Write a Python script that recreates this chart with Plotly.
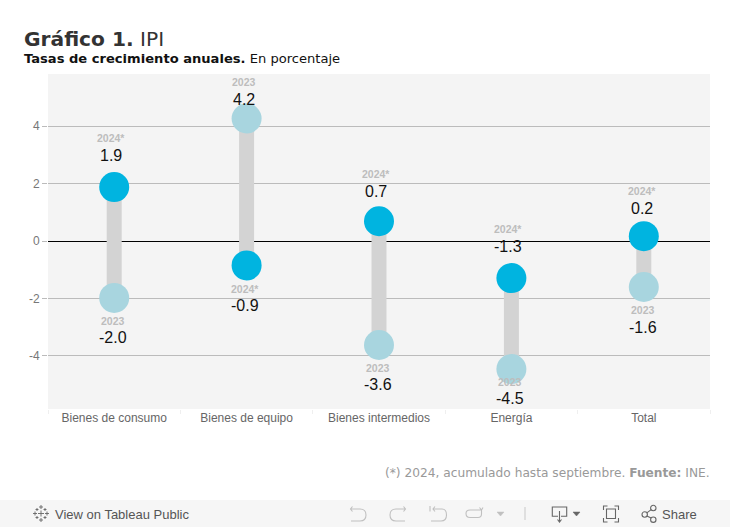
import plotly.graph_objects as go

categories = ["Bienes de consumo", "Bienes de equipo", "Bienes intermedios", "Energía", "Total"]
values_2023 = [-1.98, 4.27, -3.62, -4.46, -1.60]
values_2024 = [1.88, -0.85, 0.69, -1.29, 0.17]
labels_2023 = ["-2.0", "4.2", "-3.6", "-4.5", "-1.6"]
labels_2024 = ["1.9", "-0.9", "0.7", "-1.3", "0.2"]
y_ticks = [-4, -2, 0, 2, 4]
y_tick_labels = ["-4", "-2", "0", "2", "4"]

# label offsets in pixels from the dot (value label, year label, sideways); positive = upward/right
offset_2023 = [(-40, -23, -1.5), (19, 36.5, -2.5), (-40, -23, -1.5), (-29, -13, -1.5), (-40, -23, -1)]
offset_2024 = [(32, 49, -3), (-40, -24, -1.5), (30, 47, -3), (32, 49, -3), (28, 45, -1.5)]

W, H = 730, 527
L, R, T, B = 48, 710, 74, 409
LINK = "#d3d3d3"
C23 = "#a8d5df"
C24 = "#00b4e0"
ICON = "#c0c0c0"
DARK = "#666666"

def px(x):
    return (x - L) / (R - L)
def py(y):
    return (B - y) / (B - T)

fig = go.Figure()
link_x, link_y = [], []
for c, a, b in zip(categories, values_2023, values_2024):
    link_x += [c, c, None]
    link_y += [a, b, None]
fig.add_trace(go.Scatter(x=link_x, y=link_y, mode="lines", line=dict(color=LINK, width=15),
                         hoverinfo="skip", showlegend=False))
fig.add_trace(go.Scatter(x=categories, y=values_2023, mode="markers", name="2023",
                         marker=dict(color=C23, size=30, line=dict(width=0)), showlegend=False))
fig.add_trace(go.Scatter(x=categories, y=values_2024, mode="markers", name="2024*",
                         marker=dict(color=C24, size=30, line=dict(width=0)), showlegend=False))

anns = []
def add_labels(vals, labels, offs, year):
    for c, v, t, (o1, o2, dx) in zip(categories, vals, labels, offs):
        anns.append(dict(x=c, y=v, xref="x", yref="y", text=t, showarrow=False, yshift=o1, xshift=dx,
                         font=dict(family="Liberation Sans", size=16, color="#111111")))
        anns.append(dict(x=c, y=v, xref="x", yref="y", text=year, showarrow=False, yshift=o2, xshift=dx,
                         font=dict(family="Liberation Sans", size=10.5, color="#bdbdbd")))
add_labels(values_2023, labels_2023, offset_2023, "<b>2023</b>")
add_labels(values_2024, labels_2024, offset_2024, "<b>2024*</b>")

def text(x, y, t, size, color, family="DejaVu Sans", anchor="left"):
    anns.append(dict(x=px(x), y=py(y), xref="paper", yref="paper", text=t, showarrow=False,
                     xanchor=anchor, yanchor="middle", borderpad=0,
                     font=dict(family=family, size=size, color=color)))

text(23, 38.5, "<b>Gráfico 1.</b> IPI", 20.2, "#333333")
text(23, 58.5, "<b>Tasas de crecimiento anuales.</b> En porcentaje", 13.08, "#111111")
text(711, 473, "(*) 2024, acumulado hasta septiembre. <b>Fuente:</b> INE.", 12.2, "#999999", anchor="right")
text(54, 514, "View on Tableau Public", 13, "#555555", family="Liberation Sans")
text(661, 514, "Share", 13, "#555555", family="Liberation Sans")

shapes = [dict(type="rect", xref="paper", yref="paper", x0=px(0), x1=px(W), y0=py(H), y1=py(500),
               fillcolor="#f6f6f6", line=dict(width=0), layer="below")]

def path(points_str, color=ICON, width=1.1, fill=None):
    """SVG-like path with pixel coordinates, converted to paper space."""
    out = []
    toks = points_str.split()
    i = 0
    while i < len(toks):
        t = toks[i]
        if t in ("M", "L", "Q", "C", "Z"):
            out.append(t); i += 1
        else:
            out.append(f"{px(float(t))},{py(float(toks[i+1]))}"); i += 2
    shapes.append(dict(type="path", xref="paper", yref="paper", path=" ".join(out),
                       line=dict(color=color, width=width),
                       fillcolor=fill if fill else "rgba(0,0,0,0)"))

def circle(cx, cy, r, color=DARK, width=1.1):
    shapes.append(dict(type="circle", xref="paper", yref="paper", x0=px(cx-r), x1=px(cx+r),
                       y0=py(cy+r), y1=py(cy-r), line=dict(color=color, width=width)))

# Tableau logo
for a, b, s in [(41, 513.5, 3), (41, 507, 2), (41, 520, 2), (35, 513.5, 2), (47, 513.5, 2),
                (37, 509.5, 1.5), (45, 509.5, 1.5), (37, 517.5, 1.5), (45, 517.5, 1.5)]:
    path(f"M {a-s} {b} L {a+s} {b} M {a} {b-s} L {a} {b+s}", DARK, 0.9)
# undo / redo / revert / refresh
path("M 350 509 L 360 509 Q 366 509 366 515 Q 366 521 360 521 L 351 521 M 352.5 506.5 L 350.5 509 L 352.5 511.5")
path("M 405.5 509 L 396 509 Q 390 509 390 515 Q 390 521 396 521 L 405 521 M 403.5 506.5 L 405.5 509 L 403.5 511.5")
path("M 430 506 L 430 511.5 M 433 509 L 442 509 Q 446.5 509 446.5 515 Q 446.5 521 441 521 L 431 521 M 435 506.5 L 433 509 L 435 511.5")
path("M 481.5 510 L 470 510 Q 466 510 466 513.5 Q 466 517.5 470 517.5 L 478 517.5 Q 481.5 517.5 481.5 514 L 481.5 510 M 479.5 507.5 L 481.5 510 L 483 507.5")
path("M 497 512 L 504 512 L 500.5 516 Z", ICON, 0.5, ICON)
path("M 525 507 L 525 520", "#c8c8c8", 1)
# download
path("M 558 516.3 L 552.3 516.3 L 552.3 507 L 566.7 507 L 566.7 516.3 L 561 516.3 M 559.5 511 L 559.5 521 M 557.5 519.5 L 559.5 522 L 561.5 519.5", DARK, 1.1)
path("M 573 512 L 580 512 L 576.5 516 Z", DARK, 0.5, DARK)
# fullscreen
path("M 603.5 510 L 603.5 506 L 607.5 506 M 614.5 506 L 618.5 506 L 618.5 510 M 618.5 518 L 618.5 522 L 614.5 522 M 607.5 522 L 603.5 522 L 603.5 518", DARK, 1.1)
path("M 606.5 509 L 615.5 509 L 615.5 518.5 L 606.5 518.5 Z", DARK, 1.1)
# share
circle(644.7, 514.5, 2.7); circle(653.3, 508, 2.7); circle(653.3, 519.7, 2.7)
path("M 646.8 512.9 L 651.2 509.6 M 646.8 516.1 L 651.2 518.1", DARK, 1.1)

fig.update_layout(
    width=W, height=H, autosize=False,
    margin=dict(l=L, r=W - R, t=T, b=H - B, pad=0),
    paper_bgcolor="white", plot_bgcolor="#f4f4f4",
    showlegend=False, annotations=anns, shapes=shapes,
    xaxis=dict(type="category", categoryorder="array", categoryarray=categories, range=[-0.5, 4.5],
               showgrid=False, zeroline=False, showline=False, ticks="outside", tickson="boundaries",
               ticklen=4, tickcolor="#efefef", tickwidth=1, tickfont=dict(family="Liberation Sans", size=12, color="#666666")),
    yaxis=dict(range=[-5.85, 5.82], tickvals=y_ticks, ticktext=y_tick_labels, showgrid=True, gridcolor="#bbbbbb",
               gridwidth=1, zeroline=True, zerolinecolor="#000000", zerolinewidth=1, showline=False,
               ticks="outside", ticklen=5, tickcolor="#bbbbbb", tickwidth=1,
               tickfont=dict(family="Liberation Sans", size=12, color="#777777")),
)
fig.write_html("out.html", config=dict(displayModeBar=False),
               post_script="document.body.style.margin='0';document.documentElement.style.overflow='hidden';")
